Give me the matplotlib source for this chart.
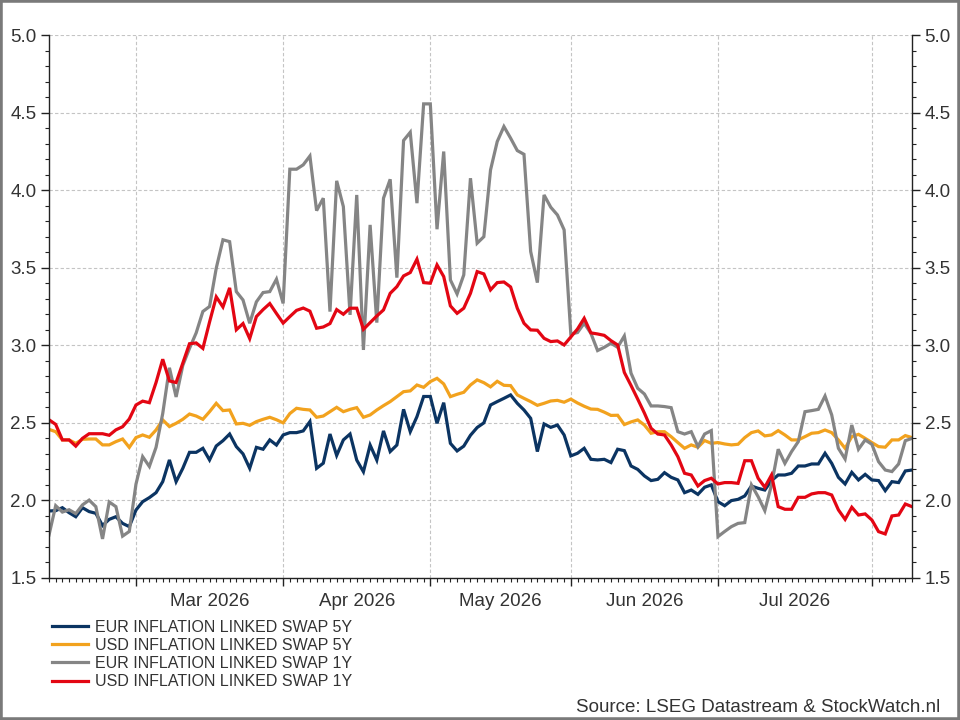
import numpy as np
import pandas as pd
import matplotlib
matplotlib.use("Agg")
import matplotlib.pyplot as plt
from matplotlib.patches import Rectangle

plt.rcParams['font.family'] = ['Liberation Sans', 'DejaVu Sans']

# business days, 11 Feb 2026 .. 11 Aug 2026
dates = pd.bdate_range("2026-02-11", periods=130)

eur_5y = [1.932, 1.934, 1.953, 1.921, 1.895, 1.953, 1.928, 1.917, 1.838, 1.878,
          1.895, 1.852, 1.831, 1.938, 1.992, 2.018, 2.050, 2.121, 2.261, 2.121,
          2.207, 2.310, 2.310, 2.336, 2.261, 2.351, 2.385, 2.428, 2.347, 2.300,
          2.207, 2.342, 2.330, 2.390, 2.357, 2.422, 2.437, 2.437, 2.448, 2.508,
          2.207, 2.240, 2.428, 2.290, 2.390, 2.428, 2.260, 2.185, 2.357, 2.260,
          2.448, 2.315, 2.357, 2.587, 2.443, 2.540, 2.670, 2.670, 2.497, 2.630,
          2.368, 2.319, 2.350, 2.420, 2.470, 2.500, 2.615, 2.637, 2.658, 2.680,
          2.626, 2.583, 2.529, 2.315, 2.493, 2.471, 2.486, 2.422, 2.287, 2.304,
          2.336, 2.265, 2.261, 2.265, 2.244, 2.330, 2.321, 2.222, 2.200, 2.158,
          2.128, 2.136, 2.179, 2.149, 2.132, 2.050, 2.067, 2.039, 2.085, 2.100,
          1.992, 1.966, 1.999, 2.007, 2.029, 2.093, 2.078, 2.067, 2.128, 2.164,
          2.164, 2.175, 2.222, 2.222, 2.235, 2.235, 2.304, 2.239, 2.149, 2.106,
          2.181, 2.132, 2.168, 2.132, 2.128, 2.063, 2.121, 2.115, 2.190, 2.196]

usd_5y = [2.458, 2.443, 2.390, 2.390, 2.368, 2.394, 2.396, 2.396, 2.358, 2.358,
          2.379, 2.396, 2.342, 2.405, 2.422, 2.407, 2.454, 2.519, 2.476, 2.497,
          2.523, 2.557, 2.544, 2.523, 2.572, 2.626, 2.579, 2.583, 2.493, 2.497,
          2.484, 2.508, 2.523, 2.536, 2.520, 2.500, 2.560, 2.594, 2.587, 2.583,
          2.536, 2.544, 2.572, 2.600, 2.572, 2.587, 2.598, 2.536, 2.551, 2.583,
          2.611, 2.637, 2.669, 2.701, 2.706, 2.744, 2.729, 2.766, 2.787, 2.751,
          2.669, 2.684, 2.697, 2.744, 2.777, 2.759, 2.732, 2.768, 2.742, 2.740,
          2.680, 2.658, 2.637, 2.613, 2.626, 2.641, 2.645, 2.633, 2.653, 2.628,
          2.607, 2.589, 2.587, 2.569, 2.548, 2.549, 2.489, 2.506, 2.519, 2.486,
          2.433, 2.443, 2.443, 2.411, 2.373, 2.336, 2.358, 2.343, 2.386, 2.368,
          2.373, 2.364, 2.358, 2.362, 2.405, 2.437, 2.448, 2.416, 2.422, 2.450,
          2.422, 2.390, 2.390, 2.411, 2.433, 2.437, 2.454, 2.437, 2.390, 2.336,
          2.411, 2.426, 2.400, 2.373, 2.347, 2.343, 2.390, 2.390, 2.418, 2.405]

eur_1y = [1.777, 1.966, 1.925, 1.940, 1.915, 1.971, 2.002, 1.960, 1.752, 1.990,
          1.960, 1.770, 1.800, 2.105, 2.282, 2.219, 2.342, 2.560, 2.855, 2.667,
          2.870, 2.980, 3.080, 3.218, 3.250, 3.497, 3.680, 3.668, 3.346, 3.292,
          3.142, 3.280, 3.340, 3.346, 3.426, 3.270, 4.135, 4.135, 4.163, 4.220,
          3.868, 3.948, 3.217, 4.060, 3.894, 3.196, 3.969, 2.970, 3.776, 3.146,
          3.948, 4.070, 3.436, 4.320, 4.373, 3.916, 4.556, 4.556, 3.748, 4.249,
          3.421, 3.331, 3.454, 4.077, 3.658, 3.700, 4.130, 4.313, 4.410, 4.335,
          4.255, 4.231, 3.604, 3.404, 3.969, 3.890, 3.840, 3.744, 3.073, 3.082,
          3.142, 3.077, 2.966, 2.987, 3.013, 2.987, 3.060, 2.820, 2.723, 2.686,
          2.609, 2.609, 2.605, 2.598, 2.443, 2.428, 2.443, 2.347, 2.428, 2.450,
          1.767, 1.800, 1.831, 1.852, 1.857, 2.100, 2.024, 1.934, 2.100, 2.330,
          2.239, 2.315, 2.379, 2.572, 2.579, 2.587, 2.673, 2.551, 2.336, 2.267,
          2.486, 2.330, 2.390, 2.362, 2.250, 2.196, 2.186, 2.235, 2.385, 2.400]

usd_1y = [2.520, 2.490, 2.390, 2.390, 2.350, 2.400, 2.430, 2.430, 2.430, 2.420,
          2.455, 2.475, 2.525, 2.615, 2.640, 2.630, 2.760, 2.910, 2.770, 2.760,
          2.885, 3.010, 3.015, 2.980, 3.150, 3.312, 3.247, 3.370, 3.100, 3.140,
          3.043, 3.185, 3.230, 3.269, 3.205, 3.143, 3.185, 3.225, 3.240, 3.220,
          3.110, 3.118, 3.140, 3.230, 3.200, 3.239, 3.239, 3.103, 3.146, 3.189,
          3.228, 3.335, 3.378, 3.447, 3.469, 3.555, 3.404, 3.400, 3.518, 3.443,
          3.254, 3.206, 3.239, 3.335, 3.475, 3.460, 3.357, 3.404, 3.408, 3.376,
          3.239, 3.142, 3.099, 3.097, 3.045, 3.024, 3.028, 3.002, 3.054, 3.105,
          3.174, 3.080, 3.073, 3.064, 3.030, 3.002, 2.825, 2.741, 2.653, 2.563,
          2.465, 2.428, 2.422, 2.358, 2.282, 2.175, 2.164, 2.093, 2.128, 2.143,
          2.106, 2.115, 2.115, 2.110, 2.256, 2.256, 2.143, 2.085, 2.164, 1.960,
          1.943, 1.943, 2.020, 2.020, 2.042, 2.050, 2.050, 2.035, 1.939, 1.878,
          1.956, 1.906, 1.913, 1.874, 1.799, 1.784, 1.900, 1.906, 1.977, 1.960]

labels = ["EUR INFLATION LINKED SWAP 5Y", "USD INFLATION LINKED SWAP 5Y",
          "EUR INFLATION LINKED SWAP 1Y", "USD INFLATION LINKED SWAP 1Y"]
colors = ["#0b3462", "#f2a21e", "#858585", "#e30613"]

x = np.arange(len(dates))
month_start = [i for i in range(1, len(dates)) if dates[i].month != dates[i - 1].month]
label_pos = [(a + b) / 2 for a, b in zip(month_start[:-1], month_start[1:])]
label_txt = [dates[a].strftime("%b %Y") for a in month_start[:-1]]

fig = plt.figure(figsize=(9.6, 7.2), dpi=100)
ax = fig.add_axes([49 / 960, 1 - 578 / 720, (912 - 49) / 960, (578 - 35) / 720])

for series, lab, col in zip([eur_5y, usd_5y, eur_1y, usd_1y], labels, colors):
    ax.plot(x, series, color=col, lw=2.3, label=lab, solid_joinstyle='miter')

ax.set_xlim(0, len(dates) - 1)
ax.set_ylim(1.5, 5.0)

# x axis: month boundaries as major ticks, one minor tick per business day
ax.set_xticks(month_start)
ax.set_xticklabels([])
ax.set_xticks(x, minor=True)
ax.tick_params(axis='x', which='major', length=6, width=1, direction='out', color='#222222')
ax.tick_params(axis='x', which='minor', length=3, width=0.8, direction='out', color='#222222')
for p, t in zip(label_pos, label_txt):
    ax.text(p, -0.027, t, transform=ax.get_xaxis_transform(), ha='center', va='top',
            fontsize=13.5, color='#333333')

ax.set_yticks(np.arange(1.5, 5.01, 0.5))
ax.set_yticks(np.arange(1.5, 5.01, 0.1), minor=True)
ax.set_yticklabels([f"{v:.1f}" for v in np.arange(1.5, 5.01, 0.5)])
ax.tick_params(axis='y', which='both', left=True, right=True, labelleft=True,
               labelright=True, direction='out', color='#222222', labelsize=13.5,
               labelcolor='#333333')
ax.tick_params(axis='y', which='major', length=6, width=1, pad=3)
ax.tick_params(axis='y', which='minor', length=3, width=0.8)

ax.grid(True, which='major', color='#c4c4c4', linestyle=(0, (3, 2)), lw=0.8)
ax.spines['top'].set_visible(False)
for s in ['left', 'right', 'bottom']:
    ax.spines[s].set_color('#222222')
    ax.spines[s].set_linewidth(1)

fig.legend(loc='upper left', bbox_to_anchor=(52 / 960, 1 - 620 / 720), frameon=False,
           fontsize=11.5, handlelength=2.25, handletextpad=0.45, labelspacing=0.19,
           borderpad=0, borderaxespad=0, labelcolor='#333333')

fig.text(940 / 960, 1 - 707 / 720, "Source: LSEG Datastream & StockWatch.nl",
         ha='right', va='center', fontsize=13.5, color='#333333')

fig.patches.append(Rectangle((0, 0), 1, 1, transform=fig.transFigure, fill=False,
                             edgecolor='#7a7a7a', lw=4))

fig.savefig("out.png", dpi=100)
